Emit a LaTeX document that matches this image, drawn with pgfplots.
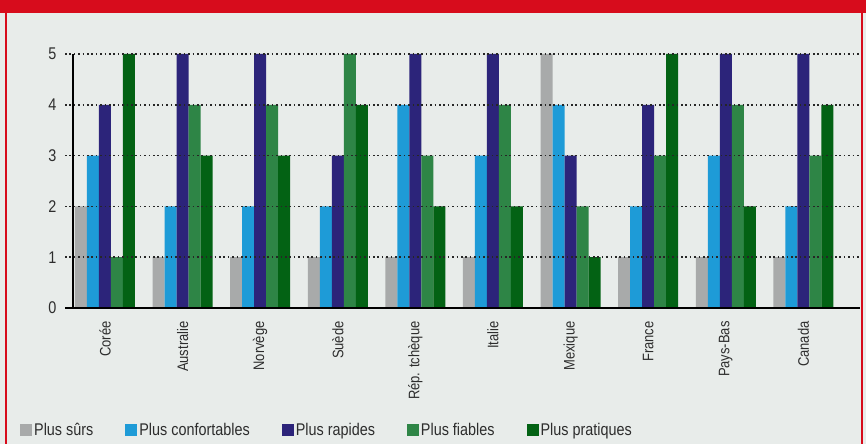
\documentclass[border=0pt]{standalone}
\usepackage{fontspec}
\setmainfont{Liberation Sans}[FakeStretch=0.85]
\usepackage{pgfplots}
\pgfplotsset{compat=1.18}
\definecolor{bg}{RGB}{232,236,234}
\definecolor{redb}{RGB}{215,12,28}
\definecolor{cgrey}{RGB}{168,170,170}
\definecolor{cblue}{RGB}{30,155,215}
\definecolor{cpurple}{RGB}{44,36,122}
\definecolor{cgreen}{RGB}{46,133,70}
\definecolor{cdgreen}{RGB}{3,98,20}
\definecolor{txt}{RGB}{45,45,45}
\begin{document}
\begin{tikzpicture}[x=1bp,y=1bp]
\path[use as bounding box] (0,0) rectangle (866,444);
\fill[bg] (0,0) rectangle (866,444);
\fill[redb] (0,431) rectangle (866,444);
\fill[redb] (4.5,0) rectangle (7,444);
\fill[redb] (860.5,0) rectangle (863,444);
\begin{axis}[
  at={(65bp,136bp)}, anchor=south west,
  scale only axis, width=795bp, height=254bp,
  xmin=-0.515, xmax=9.73, ymin=0, ymax=5,
  ybar=0pt, bar width=12bp,
  axis on top,
  axis x line*=bottom, axis y line*=left,
  x axis line style={line width=1.3bp, black, -},
  y axis line style={draw=none},
  major tick length=0pt,
  xtick={0,...,9},
  xticklabels={Corée,Australie,Norvège,Suède,Rép. tchèque,Italie,Mexique,France,Pays-Bas,Canada},
  xticklabel style={rotate=90, anchor=east, font=\fontsize{15.3}{15.3}\selectfont, text=txt},
  xticklabel shift=10bp,
  ytick={0,1,2,3,4,5},
  yticklabel style={font=\fontsize{17}{17}\selectfont, text=txt},
  yticklabel shift=5bp,
  /pgf/number format/assume math mode=true,
  ymajorgrids,
  major grid style={line width=1.6bp, black!85, dash pattern=on 1.6bp off 2.8bp},
  legend columns=5,
  legend style={draw=none, fill=none, font=\fontsize{17}{17}\selectfont, text=txt,
    at={(-0.0604,-0.480)}, anchor=west,
    /tikz/every even column/.append style={column sep=30bp}},
  legend image code/.code={\fill[#1] (0bp,-6bp) rectangle (12bp,6bp);},
]
\addplot[fill=cgrey, draw=none] coordinates {(0,2) (1,1) (2,1) (3,1) (4,1) (5,1) (6,5) (7,1) (8,1) (9,1)};
\addplot[fill=cblue, draw=none] coordinates {(0,3) (1,2) (2,2) (3,2) (4,4) (5,3) (6,4) (7,2) (8,3) (9,2)};
\addplot[fill=cpurple, draw=none] coordinates {(0,4) (1,5) (2,5) (3,3) (4,5) (5,5) (6,3) (7,4) (8,5) (9,5)};
\addplot[fill=cgreen, draw=none] coordinates {(0,1) (1,4) (2,4) (3,5) (4,3) (5,4) (6,2) (7,3) (8,4) (9,3)};
\addplot[fill=cdgreen, draw=none] coordinates {(0,5) (1,3) (2,3) (3,4) (4,2) (5,2) (6,1) (7,5) (8,2) (9,4)};
\legend{Plus sûrs, Plus confortables, Plus rapides, Plus fiables, Plus pratiques}
\draw[line width=1.3bp, black] (axis cs:-0.412,0) -- (axis cs:-0.412,5);
\node[anchor=east, font=\bfseries\fontsize{14}{14}\selectfont, text=txt] at (axis description cs:0.987,-0.480) {Source : OCDE};
\end{axis}
\end{tikzpicture}
\end{document}
